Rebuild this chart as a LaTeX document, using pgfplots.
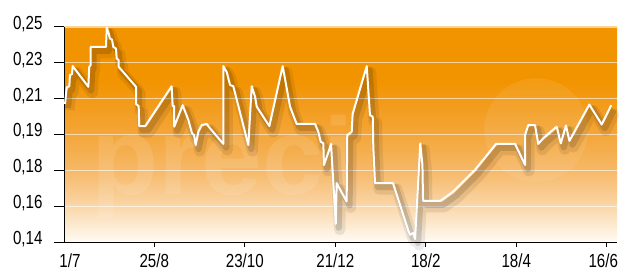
\documentclass[border=0pt]{standalone}
\usepackage{fontspec}
\setmainfont{Liberation Sans}[FakeStretch=0.8]
\newfontfamily\wmfont{Liberation Sans}
\usepackage{pgfplots}
\usepackage{pgfplotstable}
\pgfplotsset{compat=1.18}
\definecolor{oTop}{RGB}{242,148,0}
\definecolor{c0}{RGB}{255,251,245}
\definecolor{c1}{RGB}{252,234,208}
\definecolor{c2}{RGB}{249,208,155}
\definecolor{c3}{RGB}{246,182,98}
\definecolor{c4}{RGB}{244,166,58}
\definecolor{c5}{RGB}{243,154,22}
\pgfdeclareverticalshading{bgshade}{100bp}{color(0bp)=(c0); color(25bp)=(c0); color(29bp)=(c1); color(35bp)=(c2); color(42.5bp)=(c3); color(50bp)=(c4); color(58bp)=(c5); color(62.5bp)=(oTop); color(100bp)=(oTop)}
\pgfplotstableread{
d v
-3.2 0.2106
-2.1 0.2191
-0.4 0.2197
0.0 0.2254
1.35 0.2259
1.8 0.2300
12.0 0.2194
12.6 0.2296
13.5 0.2305
13.5 0.2398
23.5 0.2398
24.0 0.2497
25.3 0.2466
26.1 0.2441
27.4 0.2436
28.3 0.2398
30.0 0.2390
30.5 0.2339
31.8 0.2330
31.8 0.2296
43.1 0.2194
43.1 0.2106
44.8 0.2095
45.2 0.1993
49.1 0.1993
66.3 0.2197
67.0 0.2095
68.0 0.2095
68.0 0.1990
73.5 0.2100
77.2 0.2024
79.6 0.1956
80.9 0.1947
82.0 0.1896
83.7 0.1964
85.9 0.1998
89.2 0.2004
91.3 0.1982
100.0 0.1902
100.0 0.2300
102.2 0.2270
104.4 0.2203
106.5 0.2197
116.3 0.1896
118.5 0.2197
120.7 0.2143
121.8 0.2092
130.0 0.1993
138.7 0.2300
143.5 0.2092
147.8 0.2004
159.8 0.2004
161.9 0.1964
163.5 0.1913
165.2 0.1905
165.6 0.1794
168.4 0.1857
170.2 0.1902
173.3 0.1493
173.9 0.1701
180.4 0.1607
180.8 0.1947
183.7 0.1964
184.3 0.2055
193.5 0.2300
195.6 0.2049
197.4 0.2041
197.8 0.1880
198.9 0.1701
210.6 0.1701
220.6 0.1458
221.7 0.1437
223.9 0.1446
225.0 0.1415
228.4 0.1904
229.8 0.1794
230.2 0.1611
241.6 0.1611
249.9 0.1658
264.1 0.1769
277.8 0.1902
290.2 0.1902
296.7 0.1794
296.7 0.1947
298.8 0.1998
303.2 0.1998
305.3 0.1902
308.6 0.1931
317.3 0.1990
320.0 0.1905
323.4 0.1996
325.6 0.1917
338.6 0.2103
346.7 0.2001
352.9 0.2100
}\pricedata
\begin{document}
\begin{tikzpicture}
\useasboundingbox (0,0) rectangle (619bp,271bp);
\begin{axis}[
  at={(64bp,29bp)}, anchor=south west,
  scale only axis, width=553bp, height=215bp,
  xmin=-3.87, xmax=356.65, ymin=0.14, ymax=0.25,
  axis lines*=left,
  axis line style={-, black, line width=1bp},
  axis background/.style={shade, shading=bgshade},
  clip=false,
  xtick={0,55,114,173,232,291,350},
  xticklabels={1/7,25/8,23/10,21/12,18/2,18/4,\kern-7bp 16/6},
  ytick={0.14,0.158333,0.176667,0.195,0.213333,0.231667,0.25},
  yticklabels={{0,14},{0,16},{0,18},{0,19},{0,21},{0,23},{0,25}},
  tick style={draw=none},
  major tick length=0bp,
  ymajorgrids,
  major grid style={white, opacity=0.6, line width=1.2bp},
  tick label style={font=\fontsize{19}{19}\selectfont, black},
  yticklabel style={anchor=east, xshift=-18bp, yshift=3bp},
  xticklabel style={anchor=north, yshift=-8bp},
]
\node[anchor=base west, text=white, opacity=0.11, font=\wmfont\bfseries\fontsize{110}{110}\selectfont, inner sep=0pt] at (rel axis cs:0.05,0.22) {preci};
\fill[white, opacity=0.08] (axis cs:304,0.1972) circle[radius=52bp];
\addplot[black, opacity=0.13, line width=6bp, line join=round, xshift=3bp, yshift=-4bp] table[x=d, y=v] {\pricedata};
\addplot[black, opacity=0.08, line width=11bp, line join=round, xshift=4bp, yshift=-6bp] table[x=d, y=v] {\pricedata};
\addplot[white, line width=2bp, line join=round] table[x=d, y=v] {\pricedata};
\pgfplotsinvokeforeach{0.14,0.158333,0.176667,0.195,0.213333,0.231667,0.25}{
  \draw[black, line width=1bp] (axis cs:-3.87,#1) -- ([xshift=-10bp]axis cs:-3.87,#1);
}
\pgfplotsinvokeforeach{55,114,173,232,291,350}{
  \draw[black, line width=1bp] (axis cs:#1,0.14) -- ([yshift=-5bp]axis cs:#1,0.14);
}
\end{axis}
\end{tikzpicture}
\end{document}
